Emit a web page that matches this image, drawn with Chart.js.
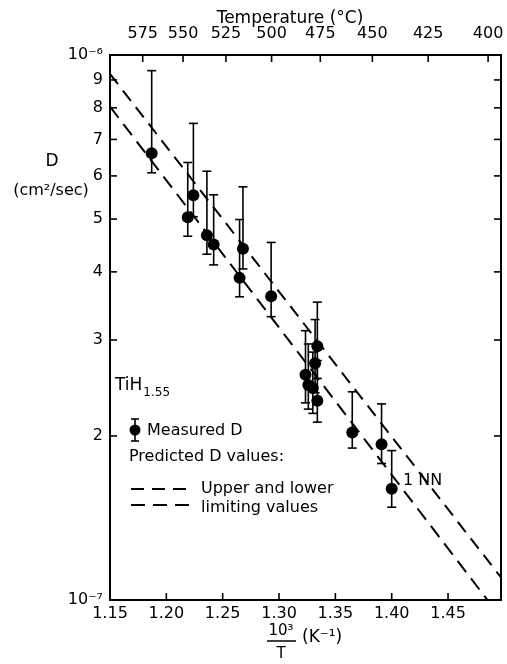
<!DOCTYPE html>
<html>
<head>
<meta charset="utf-8">
<script src="https://cdn.jsdelivr.net/npm/chart.js@4.4.0/dist/chart.umd.min.js"></script>
<style>
  html, body { margin: 0; padding: 0; background: #fff; }
  #wrap { width: 507px; height: 664px; }
</style>
</head>
<body>
<div id="wrap"><canvas id="myChart" width="507" height="664"></canvas></div>
<script>
// measured diffusion data, x = 10^3/T (K^-1), D in cm2/sec
const invT = [1.187, 1.219, 1.224, 1.236, 1.242, 1.265, 1.268, 1.293,
  1.3235, 1.326, 1.330, 1.332, 1.334, 1.334, 1.365, 1.391, 1.400];
const dMeasured = [6.60e-7, 5.04e-7, 5.53e-7, 4.67e-7, 4.49e-7, 3.90e-7, 4.41e-7, 3.61e-7,
  2.59e-7, 2.48e-7, 2.45e-7, 2.72e-7, 2.92e-7, 2.32e-7, 2.03e-7, 1.93e-7, 1.60e-7];
const dErrHigh = [9.36e-7, 6.35e-7, 7.49e-7, 6.12e-7, 5.54e-7, 4.99e-7, 5.73e-7, 4.53e-7,
  3.12e-7, 2.95e-7, 2.85e-7, 3.27e-7, 3.52e-7, 2.75e-7, 2.41e-7, 2.29e-7, 1.88e-7];
const dErrLow = [6.08e-7, 4.65e-7, 5.05e-7, 4.31e-7, 4.12e-7, 3.60e-7, 4.05e-7, 3.31e-7,
  2.30e-7, 2.24e-7, 2.20e-7, 2.40e-7, 2.55e-7, 2.12e-7, 1.90e-7, 1.78e-7, 1.48e-7];

// predicted limits (upper and lower)
const upperX = [1.15, 1.497];
const upperD = [9.23e-7, 1.10e-7];
const lowerX = [1.15, 1.485];
const lowerD = [8.04e-7, 1.0e-7];

// axis ticks
const xTicks = [1.15, 1.20, 1.25, 1.30, 1.35, 1.40, 1.45];
const tempTicks = [575, 550, 525, 500, 475, 450, 425, 400];
const yTicks = [1e-7, 2e-7, 3e-7, 4e-7, 5e-7, 6e-7, 7e-7, 8e-7, 9e-7, 1e-6];

const FONT = "'DejaVu Sans', sans-serif";
const xMin = 1.15, xMax = 1.497;

const line = (ctx, x1, y1, x2, y2) => {
  ctx.beginPath(); ctx.moveTo(x1, y1); ctx.lineTo(x2, y2); ctx.stroke();
};

// error bars under the points
const errorBars = {
  id: "errorBars",
  beforeDatasetsDraw(chart) {
    const ctx = chart.ctx, x = chart.scales.x, y = chart.scales.y;
    ctx.save();
    ctx.strokeStyle = "#000";
    ctx.lineWidth = 1.6;
    invT.forEach((v, i) => {
      const px = x.getPixelForValue(v);
      const top = y.getPixelForValue(dErrHigh[i]);
      const bot = y.getPixelForValue(dErrLow[i]);
      line(ctx, px, top, px, bot);
      line(ctx, px - 4.5, top, px + 4.5, top);
      line(ctx, px - 4.5, bot, px + 4.5, bot);
    });
    ctx.restore();
  }
};

// frame, inward ticks and the texts
const decorations = {
  id: "decorations",
  afterDraw(chart) {
    const ctx = chart.ctx, a = chart.chartArea;
    const x = chart.scales.x, x2 = chart.scales.x2, y = chart.scales.y;
    ctx.save();
    ctx.strokeStyle = "#000";
    ctx.fillStyle = "#000";
    ctx.lineWidth = 2;
    ctx.strokeRect(a.left, a.top, a.right - a.left, a.bottom - a.top);

    ctx.lineWidth = 1.6;
    yTicks.slice(1, -1).forEach(v => {
      const py = y.getPixelForValue(v);
      line(ctx, a.left, py, a.left + 7, py);
      line(ctx, a.right, py, a.right - 7, py);
    });
    xTicks.slice(1).forEach(v => {
      const px = x.getPixelForValue(v);
      line(ctx, px, a.bottom, px, a.bottom - 7);
    });
    tempTicks.forEach(t => {
      const px = x2.getPixelForValue(1000 / (t + 273.15));
      line(ctx, px, a.top, px, a.top + 7);
    });

    ctx.textBaseline = "middle";
    ctx.textAlign = "center";
    ctx.font = "17px " + FONT;
    ctx.fillText("Temperature (°C)", 290, 19);
    ctx.fillText("D", 52, 162);
    ctx.font = "16px " + FONT;
    ctx.fillText("(cm²/sec)", 51, 191);

    // bottom axis title as a fraction
    ctx.font = "15px " + FONT;
    ctx.fillText("10³", 281, 631);
    ctx.lineWidth = 1.5;
    line(ctx, 267, 641, 296, 641);
    ctx.fillText("T", 281, 654);
    ctx.textAlign = "left";
    ctx.font = "17px " + FONT;
    ctx.fillText("(K⁻¹)", 302, 638);

    // TiH1.55
    ctx.font = "17px " + FONT;
    ctx.fillText("TiH", 115, 386);
    const w = ctx.measureText("TiH").width;
    ctx.font = "12px " + FONT;
    ctx.fillText("1.55", 115 + w + 1, 393);

    // legend
    ctx.lineWidth = 1.6;
    line(ctx, 135, 419, 135, 441);
    line(ctx, 131, 419, 139, 419);
    line(ctx, 131, 441, 139, 441);
    ctx.beginPath(); ctx.arc(135, 430, 5.5, 0, Math.PI * 2); ctx.fill();
    ctx.font = "16px " + FONT;
    ctx.fillText("Measured D", 147, 431);
    ctx.fillText("Predicted D values:", 129, 457);
    ctx.lineWidth = 2;
    ctx.setLineDash([13, 8]);
    line(ctx, 131, 489, 193, 489);
    ctx.setLineDash([14, 8]);
    line(ctx, 131, 505, 193, 505);
    ctx.setLineDash([]);
    ctx.fillText("Upper and lower", 201, 489);
    ctx.fillText("limiting values", 201, 508);
    ctx.fillText("1 NN", 403, 481);
    ctx.restore();
  }
};

const noPad = s => { s.paddingLeft = 0; s.paddingRight = 0; s.paddingTop = 0; s.paddingBottom = 0; };

const createChart = () => {
  const ctx = document.getElementById("myChart").getContext("2d");

  const data = {
    datasets: [
      {
        label: "Measured D",
        type: "scatter",
        data: invT.map((v, i) => ({ x: v, y: dMeasured[i] })),
        backgroundColor: "#000",
        borderWidth: 0,
        pointRadius: 6,
      },
      {
        label: "Upper limit",
        type: "line",
        data: upperX.map((v, i) => ({ x: v, y: upperD[i] })),
        borderColor: "#000",
        borderWidth: 2,
        borderDash: [13, 8],
        pointRadius: 0,
        fill: false,
      },
      {
        label: "Lower limit",
        type: "line",
        data: lowerX.map((v, i) => ({ x: v, y: lowerD[i] })),
        borderColor: "#000",
        borderWidth: 2,
        borderDash: [14, 8],
        pointRadius: 0,
        fill: false,
      },
    ],
  };

  const tickFont = { family: FONT, size: 16 };

  const config = {
    type: "scatter",
    data: data,
    options: {
      responsive: false,
      animation: false,
      layout: { padding: { left: 0, right: 4, top: 0, bottom: 0 } },
      plugins: { legend: { display: false }, tooltip: { enabled: false } },
      scales: {
        x: {
          type: "linear",
          position: "bottom",
          min: xMin,
          max: xMax,
          afterBuildTicks: s => { s.ticks = xTicks.map(v => ({ value: v })); },
          afterFit: s => { s.height = 64; noPad(s); },
          ticks: {
            callback: v => v.toFixed(2),
            font: tickFont,
            color: "#000",
            padding: 4,
            maxRotation: 0,
            autoSkip: false,
          },
          grid: { display: false, drawTicks: false },
          border: { display: false },
        },
        x2: {
          type: "linear",
          position: "top",
          min: xMin,
          max: xMax,
          afterBuildTicks: s => { s.ticks = tempTicks.map(t => ({ value: 1000 / (t + 273.15) })); },
          afterFit: s => { s.height = 55; noPad(s); },
          ticks: {
            callback: v => String(Math.round(1000 / v - 273.15)),
            font: tickFont,
            color: "#000",
            padding: 12,
            maxRotation: 0,
            autoSkip: false,
          },
          grid: { display: false, drawTicks: false },
          border: { display: false },
        },
        y: {
          type: "logarithmic",
          min: 1e-7,
          max: 1e-6,
          afterBuildTicks: s => { s.ticks = yTicks.map(v => ({ value: v })); },
          afterFit: s => { s.width = 110; noPad(s); },
          ticks: {
            callback: v => {
              if (Math.abs(v - 1e-6) < 1e-12) return "10⁻⁶";
              if (Math.abs(v - 1e-7) < 1e-12) return "10⁻⁷";
              return String(Math.round(v * 1e7));
            },
            font: tickFont,
            color: "#000",
            padding: 7,
            autoSkip: false,
          },
          grid: { display: false, drawTicks: false },
          border: { display: false },
        },
      },
    },
    plugins: [errorBars, decorations],
  };

  new Chart(ctx, config);
};

document.addEventListener("DOMContentLoaded", createChart);
</script>
</body>
</html>
